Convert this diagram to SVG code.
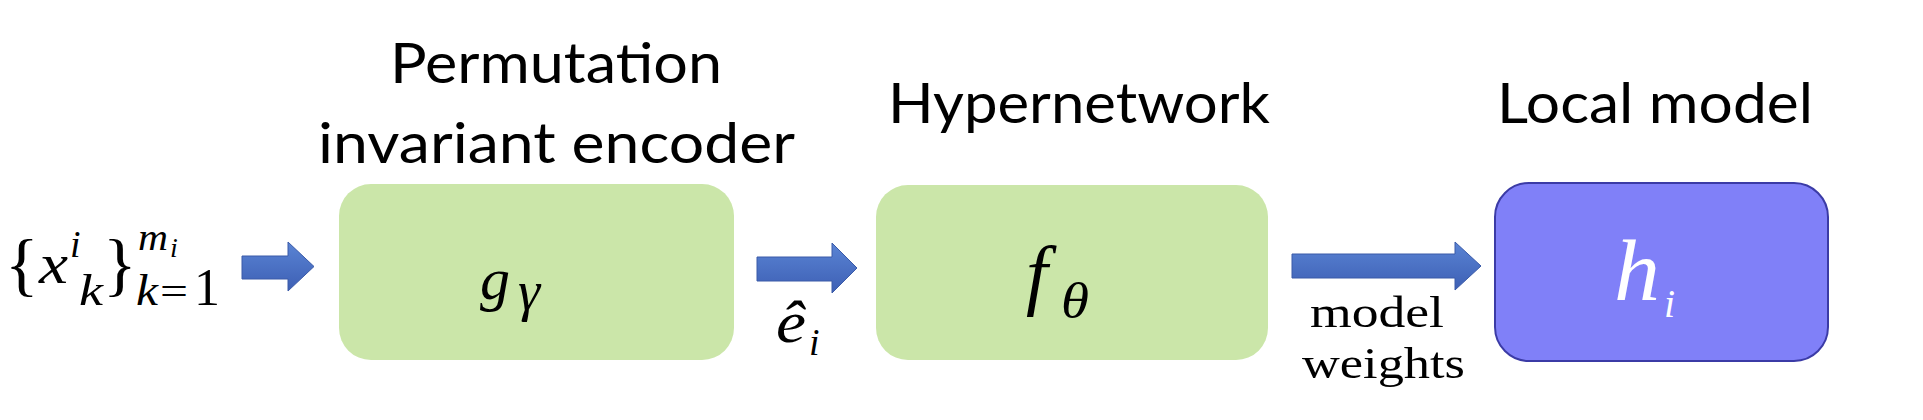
<svg xmlns="http://www.w3.org/2000/svg" width="1923" height="420" viewBox="0 0 1923 420">
<defs>
<linearGradient id="ag" x1="0" y1="0" x2="0" y2="1">
<stop offset="0" stop-color="#5a84d4"/>
<stop offset="1" stop-color="#3d5fb4"/>
</linearGradient>
</defs>
<style>
.title{font-family:Lato,"Open Sans","Liberation Sans",sans-serif;font-size:56px;fill:#000}
.math{font-family:"Liberation Serif","DejaVu Serif",serif;font-style:italic;fill:#000}
.up{font-style:normal}
.lbl{font-family:"Liberation Serif","DejaVu Serif",serif;font-size:44px;fill:#000}
.green{fill:#cbe6a9;stroke:none}
.blue{fill:#8080f8;stroke:#3b3ba6;stroke-width:2}
.arrow{fill:url(#ag);stroke:#3a5aa8;stroke-width:1}
.white{fill:#ffffff}
</style>
<rect width="1923" height="420" fill="#ffffff"/>

<g id="input">
<text class="math up" font-size="70" x="5" y="288">{</text>
<text class="math" font-size="56" x="39" y="283" textLength="29" lengthAdjust="spacingAndGlyphs">x</text>
<text class="math" font-size="38" x="70" y="257">i</text>
<text class="math" font-size="44" x="79" y="305" textLength="24" lengthAdjust="spacingAndGlyphs">k</text>
<text class="math up" font-size="70" x="103" y="288">}</text>
<text class="math" font-size="38" x="138" y="250" textLength="30" lengthAdjust="spacingAndGlyphs">m</text>
<text class="math" font-size="28" x="170" y="257">i</text>
<text class="math" font-size="44" x="136" y="305" textLength="22" lengthAdjust="spacingAndGlyphs">k</text>
<text class="math up" font-size="40" x="160" y="305" textLength="28" lengthAdjust="spacingAndGlyphs">=</text>
<text class="math up" font-size="52" x="194" y="305">1</text>
</g>

<g id="encoder">
<text class="title" x="390" y="83" textLength="332" lengthAdjust="spacingAndGlyphs">Permutation</text>
<text class="title" x="318" y="163" textLength="477" lengthAdjust="spacingAndGlyphs">invariant encoder</text>
<rect class="green" x="339" y="184" width="395" height="176" rx="32" ry="32"/>
<text class="math" font-size="60" x="480" y="299">g</text>
<text class="math" font-size="56" x="518" y="310">γ</text>
</g>

<g id="hypernetwork">
<text class="title" x="888" y="123" textLength="382" lengthAdjust="spacingAndGlyphs">Hypernetwork</text>
<rect class="green" x="876" y="185" width="392" height="175" rx="32" ry="32"/>
<text class="math" font-size="78" x="1026" y="300">f</text>
<text class="math" font-size="50" x="1061" y="318" textLength="28" lengthAdjust="spacingAndGlyphs">θ</text>
</g>

<g id="local-model">
<text class="title" x="1497" y="123" textLength="316" lengthAdjust="spacingAndGlyphs">Local model</text>
<rect class="blue" x="1495" y="183" width="333" height="178" rx="34" ry="34"/>
<text class="math white" font-size="86" x="1614" y="300" textLength="46" lengthAdjust="spacingAndGlyphs">h</text>
<text class="math white" font-size="40" x="1664" y="317">i</text>
</g>

<g id="connectors">
<polygon class="arrow" points="242,256 288,256 288,242 314,266.5 288,291 288,279 242,279"/>
<polygon class="arrow" points="757,257 832,257 832,243 857,268 832,293 832,281 757,281"/>
<polygon class="arrow" points="1292,254 1455,254 1455,242 1481,266 1455,290 1455,278 1292,278"/>
<text class="math" font-size="60" x="776" y="342" textLength="30" lengthAdjust="spacingAndGlyphs">ê</text>
<text class="math" font-size="38" x="809" y="355">i</text>
<text class="lbl" x="1310" y="327" textLength="134" lengthAdjust="spacingAndGlyphs">model</text>
<text class="lbl" x="1302" y="378" textLength="163" lengthAdjust="spacingAndGlyphs">weights</text>
</g>
</svg>
